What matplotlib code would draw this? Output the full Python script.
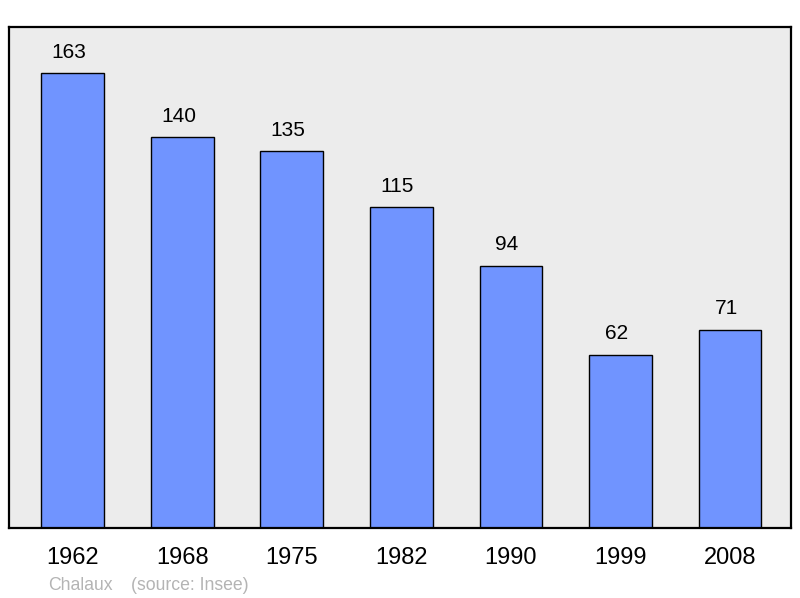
import matplotlib
matplotlib.use("Agg")
import matplotlib.pyplot as plt

years = ["1962", "1968", "1975", "1982", "1990", "1999", "2008"]
population = [163, 140, 135, 115, 94, 62, 71]
commune = "Chalaux"
source = "(source: Insee)"

plt.rcParams['font.family'] = ['Liberation Sans', 'DejaVu Sans']

fig = plt.figure(figsize=(8.0, 5.98), dpi=100)
ax = fig.add_axes([9/800, 1-528/598, 782/800, 501/598])
ax.set_facecolor('#ececec')
x = list(range(len(years)))
ax.bar(x, population, width=0.575, color='#7094ff', edgecolor='black', linewidth=1.0)
for xi, v in zip(x, population):
    ax.annotate(str(v), (xi, v), xytext=(-4, 21), textcoords='offset pixels',
                ha='center', va='center', fontsize=15, color='black')
ax.set_xlim(-0.584, 6.557)
ax.set_ylim(0, 179.5)
ax.set_yticks([])
ax.set_xticks(x)
ax.set_xticklabels(years, fontsize=17)
ax.tick_params(axis='x', length=0, pad=14)
for s in ax.spines.values():
    s.set_linewidth(1.6)
    s.set_color('black')
fig.text(48/800, 1-585.5/598, commune, fontsize=12.7, color='#b4b4b4', ha='left', va='center')
fig.text(131/800, 1-585.5/598, source, fontsize=12.7, color='#b4b4b4', ha='left', va='center')
fig.savefig("out.png", dpi=100)
